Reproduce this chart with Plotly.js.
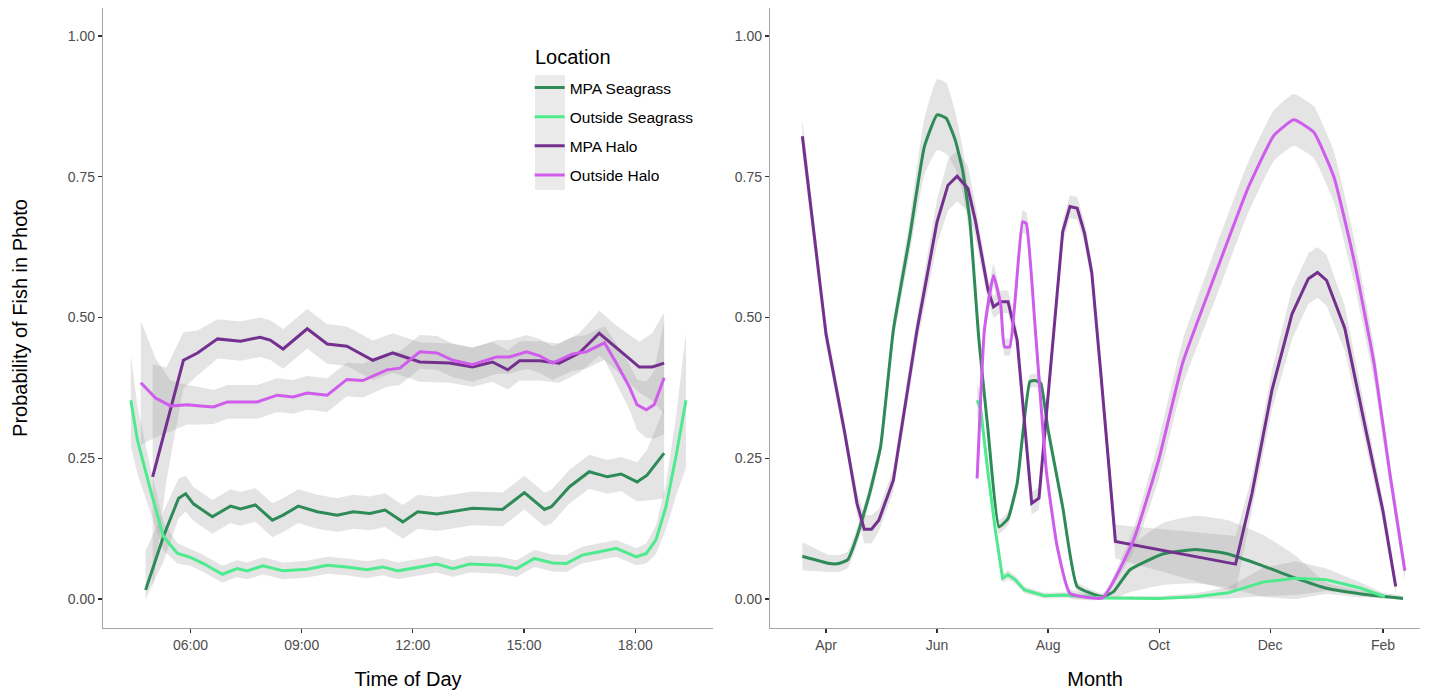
<!DOCTYPE html>
<html>
<head>
<meta charset="utf-8">
<script src="https://cdn.plot.ly/plotly-3.0.1.min.js"></script>
<style>html,body{margin:0;padding:0;background:#fff;}#chart{width:1439px;height:692px;}</style>
</head>
<body>
<div id="chart"></div>
<script>
// ---------- Series names & colours ----------
const seriesNames = ["MPA Seagrass", "Outside Seagrass", "MPA Halo", "Outside Halo"];
const seriesColors = ["#2E8B57", "#4EEA8E", "#74308F", "#CF5CEC"];
const legendTitle = "Location";

// ---------- Left panel: Time of Day (hours) ----------
const todTickVals = [6, 9, 12, 15, 18];
const todTickText = ["06:00", "09:00", "12:00", "15:00", "18:00"];

const todMpaSeagrassX = [4.79, 5.27, 5.68, 5.87, 6.08, 6.59, 7.08, 7.35, 7.75, 8.21, 8.50, 8.91, 9.42, 9.96, 10.39, 10.84, 11.25, 11.73, 12.13, 12.65, 13.61, 14.42, 15.01, 15.55, 15.74, 16.22, 16.76, 17.25, 17.62, 18.05, 18.32, 18.78];
const todMpaSeagrassY = [0.016, 0.111, 0.179, 0.187, 0.169, 0.146, 0.165, 0.160, 0.167, 0.140, 0.149, 0.165, 0.155, 0.149, 0.155, 0.152, 0.158, 0.137, 0.155, 0.151, 0.161, 0.159, 0.189, 0.159, 0.164, 0.199, 0.226, 0.217, 0.222, 0.208, 0.220, 0.259];
const todMpaSeagrassCI = [0.07, 0.045, 0.035, 0.032, 0.03, 0.03, 0.03, 0.03, 0.03, 0.03, 0.03, 0.03, 0.03, 0.03, 0.03, 0.03, 0.03, 0.03, 0.03, 0.03, 0.03, 0.03, 0.03, 0.03, 0.03, 0.03, 0.03, 0.03, 0.03, 0.035, 0.045, 0.08];

const todOutSeagrassX = [4.39, 4.57, 4.92, 5.27, 5.65, 6.00, 6.35, 6.86, 7.26, 7.53, 7.96, 8.50, 9.15, 9.69, 10.22, 10.76, 11.19, 11.60, 12.19, 12.65, 13.08, 13.53, 14.34, 14.80, 15.28, 15.77, 16.14, 16.57, 17.03, 17.49, 18.03, 18.30, 18.56, 18.83, 19.10, 19.37];
const todOutSeagrassY = [0.353, 0.282, 0.194, 0.111, 0.081, 0.074, 0.063, 0.044, 0.054, 0.050, 0.059, 0.050, 0.053, 0.060, 0.057, 0.052, 0.057, 0.050, 0.057, 0.062, 0.054, 0.062, 0.060, 0.054, 0.072, 0.064, 0.063, 0.078, 0.084, 0.090, 0.075, 0.081, 0.105, 0.164, 0.253, 0.353];
const todOutSeagrassCI = [0.08, 0.06, 0.04, 0.025, 0.018, 0.015, 0.015, 0.015, 0.015, 0.015, 0.015, 0.015, 0.015, 0.015, 0.015, 0.015, 0.015, 0.015, 0.015, 0.015, 0.015, 0.015, 0.015, 0.015, 0.015, 0.015, 0.015, 0.015, 0.015, 0.015, 0.015, 0.018, 0.025, 0.04, 0.07, 0.12];

const todMpaHaloX = [4.98, 5.35, 5.81, 6.19, 6.73, 7.35, 7.88, 8.15, 8.50, 9.15, 9.69, 10.22, 10.92, 11.46, 12.19, 12.99, 13.61, 14.15, 14.56, 14.88, 15.42, 15.95, 16.49, 17.03, 17.49, 18.11, 18.46, 18.78];
const todMpaHaloY = [0.217, 0.311, 0.424, 0.437, 0.462, 0.458, 0.465, 0.460, 0.444, 0.480, 0.453, 0.449, 0.424, 0.437, 0.421, 0.419, 0.412, 0.421, 0.407, 0.423, 0.423, 0.419, 0.437, 0.472, 0.446, 0.412, 0.412, 0.419];
const todMpaHaloCI = [0.2, 0.1, 0.05, 0.04, 0.035, 0.035, 0.035, 0.035, 0.035, 0.035, 0.035, 0.035, 0.035, 0.035, 0.035, 0.035, 0.035, 0.035, 0.035, 0.035, 0.035, 0.035, 0.035, 0.04, 0.04, 0.045, 0.06, 0.09];

const todOutHaloX = [4.66, 5.06, 5.46, 5.92, 6.27, 6.62, 7.00, 7.80, 8.34, 8.77, 9.15, 9.69, 10.22, 10.65, 11.30, 11.65, 12.19, 12.65, 13.08, 13.61, 14.26, 14.61, 15.07, 15.42, 15.77, 16.30, 16.68, 17.17, 17.49, 17.84, 18.05, 18.30, 18.51, 18.78];
const todOutHaloY = [0.384, 0.357, 0.343, 0.345, 0.343, 0.341, 0.350, 0.350, 0.362, 0.359, 0.366, 0.362, 0.390, 0.388, 0.407, 0.410, 0.439, 0.437, 0.424, 0.416, 0.430, 0.430, 0.439, 0.432, 0.419, 0.435, 0.439, 0.455, 0.419, 0.377, 0.345, 0.336, 0.345, 0.393];
const todOutHaloCI = [0.11, 0.07, 0.045, 0.035, 0.033, 0.03, 0.03, 0.03, 0.03, 0.03, 0.03, 0.03, 0.03, 0.03, 0.03, 0.03, 0.03, 0.03, 0.03, 0.03, 0.03, 0.03, 0.03, 0.03, 0.03, 0.03, 0.03, 0.03, 0.035, 0.04, 0.045, 0.05, 0.06, 0.1];

// ---------- Right panel: Month ----------
const monTickVals = ["2019-04-01", "2019-06-01", "2019-08-01", "2019-10-01", "2019-12-01", "2020-02-01"];
const monTickText = ["Apr", "Jun", "Aug", "Oct", "Dec", "Feb"];

const monMpaSeagrassX = ["2019-03-19","2019-04-03","2019-04-08","2019-04-13","2019-04-18","2019-04-25","2019-05-01","2019-05-08","2019-05-17","2019-05-25","2019-06-01","2019-06-06","2019-06-11","2019-06-15","2019-06-19","2019-06-24","2019-06-29","2019-07-05","2019-07-10","2019-07-15","2019-07-22","2019-07-25","2019-07-28","2019-08-01","2019-08-09","2019-08-17","2019-08-31","2019-09-06","2019-09-15","2019-10-03","2019-10-21","2019-11-08","2019-11-27","2019-12-15","2020-01-01","2020-01-20","2020-02-12"];
const monMpaSeagrassY = [0.076, 0.063, 0.063, 0.070, 0.111, 0.188, 0.271, 0.478, 0.644, 0.803, 0.860, 0.854, 0.815, 0.762, 0.673, 0.46, 0.300, 0.128, 0.143, 0.205, 0.386, 0.388, 0.383, 0.300, 0.164, 0.022, 0.004, 0.013, 0.052, 0.080, 0.088, 0.080, 0.059, 0.037, 0.019, 0.009, 0.001];
const monMpaSeagrassCI = [0.025, 0.015, 0.015, 0.015, 0.015, 0.015, 0.015, 0.02, 0.03, 0.05, 0.063, 0.063, 0.05, 0.04, 0.03, 0.02, 0.015, 0.012, 0.012, 0.012, 0.012, 0.012, 0.012, 0.012, 0.01, 0.008, 0.006, 0.02, 0.04, 0.055, 0.06, 0.06, 0.055, 0.04, 0.01, 0.006, 0.004];

const monOutSeagrassX = ["2019-06-23","2019-06-25","2019-06-29","2019-07-03","2019-07-07","2019-07-10","2019-07-14","2019-07-19","2019-07-30","2019-08-10","2019-08-31","2019-10-01","2019-10-21","2019-11-08","2019-11-27","2019-12-15","2020-01-01","2020-01-20","2020-02-02"];
const monOutSeagrassY = [0.353, 0.336, 0.224, 0.123, 0.037, 0.043, 0.034, 0.016, 0.006, 0.007, 0.002, 0.001, 0.004, 0.011, 0.030, 0.037, 0.034, 0.019, 0.004];
const monOutSeagrassCI = [0.03, 0.025, 0.02, 0.015, 0.008, 0.008, 0.007, 0.006, 0.005, 0.005, 0.004, 0.004, 0.006, 0.01, 0.025, 0.03, 0.02, 0.01, 0.005];

const monMpaHaloX = ["2019-03-19","2019-04-01","2019-04-11","2019-04-18","2019-04-22","2019-04-26","2019-04-30","2019-05-08","2019-05-21","2019-06-01","2019-06-07","2019-06-12","2019-06-18","2019-06-22","2019-06-29","2019-07-02","2019-07-06","2019-07-10","2019-07-15","2019-07-23","2019-07-27","2019-08-04","2019-08-09","2019-08-13","2019-08-17","2019-08-21","2019-08-25","2019-08-30","2019-09-07","2019-11-12","2019-11-21","2019-12-02","2019-12-13","2019-12-22","2019-12-27","2020-01-01","2020-01-11","2020-01-22","2020-02-01","2020-02-08"];
const monMpaHaloY = [0.822, 0.47, 0.30, 0.17, 0.124, 0.124, 0.14, 0.211, 0.478, 0.67, 0.735, 0.751, 0.729, 0.673, 0.549, 0.519, 0.528, 0.528, 0.46, 0.170, 0.179, 0.478, 0.652, 0.697, 0.694, 0.650, 0.58, 0.40, 0.102, 0.062, 0.187, 0.371, 0.506, 0.569, 0.580, 0.566, 0.481, 0.309, 0.156, 0.022];
const monMpaHaloCI = [0.03, 0.02, 0.015, 0.02, 0.025, 0.025, 0.02, 0.02, 0.025, 0.04, 0.045, 0.045, 0.04, 0.03, 0.02, 0.02, 0.02, 0.02, 0.02, 0.02, 0.02, 0.02, 0.02, 0.02, 0.02, 0.02, 0.02, 0.02, 0.03, 0.05, 0.03, 0.035, 0.045, 0.045, 0.045, 0.045, 0.04, 0.03, 0.02, 0.015];

const monOutHaloX = ["2019-06-23","2019-06-25","2019-06-27","2019-07-02","2019-07-06","2019-07-08","2019-07-11","2019-07-18","2019-07-20","2019-07-25","2019-07-31","2019-08-06","2019-08-13","2019-08-31","2019-09-17","2019-10-01","2019-10-14","2019-11-01","2019-11-19","2019-12-03","2019-12-14","2019-12-25","2020-01-05","2020-01-16","2020-01-27","2020-02-05","2020-02-13"];
const monOutHaloY = [0.214, 0.359, 0.478, 0.575, 0.522, 0.448, 0.448, 0.670, 0.667, 0.478, 0.229, 0.093, 0.010, 0.002, 0.105, 0.25, 0.42, 0.578, 0.731, 0.823, 0.851, 0.829, 0.750, 0.603, 0.420, 0.218, 0.050];
const monOutHaloCI = [0.02, 0.02, 0.02, 0.02, 0.015, 0.015, 0.015, 0.02, 0.02, 0.015, 0.01, 0.01, 0.008, 0.006, 0.02, 0.035, 0.04, 0.045, 0.045, 0.045, 0.046, 0.046, 0.045, 0.04, 0.03, 0.02, 0.015];

const yTickVals = [0, 0.25, 0.5, 0.75, 1];
const yTickText = ["0.00", "0.25", "0.50", "0.75", "1.00"];

// ---------- Build traces ----------
const FONT = "Liberation Sans, Arial, Helvetica, sans-serif";
const RIBBON_FILL = "rgba(150,150,150,0.26)";

function ribbon(xs, ys, ci, xa, ya, shape) {
  const hi = ys.map((v, i) => Math.min(v + ci[i], 1.0));
  const lo = ys.map((v, i) => Math.max(v - ci[i], 0));
  return {
    x: xs.concat(xs.slice().reverse()),
    y: hi.concat(lo.slice().reverse()),
    mode: "lines", fill: "toself", fillcolor: RIBBON_FILL,
    line: {width: 0, color: "rgba(0,0,0,0)", shape: shape || "linear", smoothing: 0.4},
    hoverinfo: "skip", showlegend: false, xaxis: xa, yaxis: ya
  };
}
function line(xs, ys, idx, xa, ya, legend, shape) {
  return {
    x: xs, y: ys, mode: "lines", name: seriesNames[idx],
    legendgroup: "g" + idx, showlegend: legend,
    line: {color: seriesColors[idx], width: 3, shape: shape || "linear", smoothing: 0.4},
    xaxis: xa, yaxis: ya
  };
}

const todSets = [
  [todMpaSeagrassX, todMpaSeagrassY, todMpaSeagrassCI],
  [todOutSeagrassX, todOutSeagrassY, todOutSeagrassCI],
  [todMpaHaloX, todMpaHaloY, todMpaHaloCI],
  [todOutHaloX, todOutHaloY, todOutHaloCI]
];
const monSets = [
  [monMpaSeagrassX, monMpaSeagrassY, monMpaSeagrassCI, "spline"],
  [monOutSeagrassX, monOutSeagrassY, monOutSeagrassCI, "linear"],
  [monMpaHaloX, monMpaHaloY, monMpaHaloCI, "linear"],
  [monOutHaloX, monOutHaloY, monOutHaloCI, "spline"]
];

const traces = [];
todSets.forEach(s => traces.push(ribbon(s[0], s[1], s[2], "x", "y")));
monSets.forEach(s => traces.push(ribbon(s[0], s[1], s[2], "x2", "y2", s[3])));
todSets.forEach((s, i) => traces.push(line(s[0], s[1], i, "x", "y", true)));
monSets.forEach((s, i) => traces.push(line(s[0], s[1], i, "x2", "y2", false, s[3])));

const axisCommon = {
  showline: true, linecolor: "#A6A6A6", linewidth: 1.2,
  ticks: "outside", ticklen: 4, tickcolor: "#333333", tickwidth: 1.2,
  tickfont: {family: FONT, size: 14, color: "#4D4D4D"},
  showgrid: false, zeroline: false, fixedrange: true
};

const layout = {
  width: 1439, height: 692,
  margin: {l: 103, r: 19, t: 8, b: 64},
  paper_bgcolor: "#FFFFFF", plot_bgcolor: "#FFFFFF",
  font: {family: FONT, color: "#000000"},
  showlegend: true,
  legend: {
    x: 0.324, y: 0.8984, xanchor: "left", yanchor: "top",
    bgcolor: "rgba(0,0,0,0)", borderwidth: 0,
    font: {family: FONT, size: 15.5, color: "#000"},
    tracegroupgap: 6, itemwidth: 30
  },
  annotations: [{
    text: legendTitle, xref: "paper", yref: "paper",
    x: 0.3265, y: 0.921, xanchor: "left", yanchor: "middle",
    showarrow: false, font: {family: FONT, size: 20, color: "#000"}
  }],
  shapes: [{
    type: "rect", xref: "paper", yref: "paper", layer: "below",
    x0: 0.328, x1: 0.3508, y0: 0.7065, y1: 0.892,
    fillcolor: "#EBEBEB", line: {width: 0}
  }],
  xaxis: Object.assign({}, axisCommon, {
    domain: [0, 0.4632], range: [3.64, 20.1],
    tickvals: todTickVals, ticktext: todTickText, anchor: "y",
    title: {text: "Time of Day", font: {family: FONT, size: 20, color: "#000"}, standoff: 20}
  }),
  yaxis: Object.assign({}, axisCommon, {
    domain: [0, 1], range: [-0.0515, 1.0497], anchor: "x",
    tickvals: yTickVals, ticktext: yTickText,
    title: {text: "Probability of Fish in Photo", font: {family: FONT, size: 20, color: "#000"}, standoff: 34}
  }),
  xaxis2: Object.assign({}, axisCommon, {
    domain: [0.5065, 1], type: "date", anchor: "y2",
    range: ["2019-03-01 06:00", "2020-02-21 08:00"],
    tickvals: monTickVals, ticktext: monTickText,
    title: {text: "Month", font: {family: FONT, size: 20, color: "#000"}, standoff: 20}
  }),
  yaxis2: Object.assign({}, axisCommon, {
    domain: [0, 1], range: [-0.0515, 1.0497], anchor: "x2",
    tickvals: yTickVals, ticktext: yTickText
  })
};

Plotly.newPlot("chart", traces, layout, {displayModeBar: false, staticPlot: true});
</script>
</body>
</html>
